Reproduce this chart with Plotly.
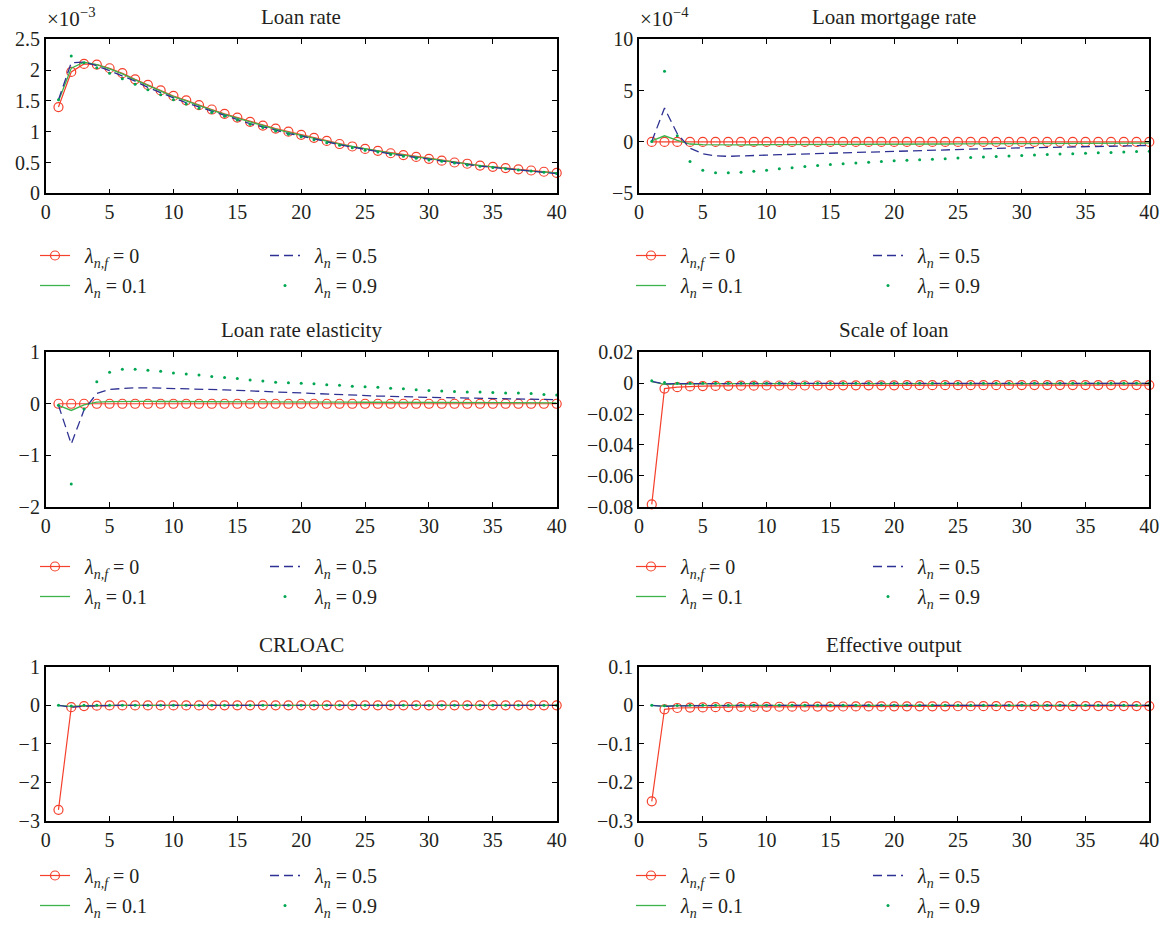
import plotly.graph_objects as go

# ---------------- data ----------------
periods = list(range(1, 41))

series_names = ["\u2002<i>λ</i><sub><i>n,f</i></sub> = 0", "\u2002<i>λ</i><sub><i>n</i></sub> = 0.1",
                "\u2002<i>λ</i><sub><i>n</i></sub> = 0.5", "\u2002<i>λ</i><sub><i>n</i></sub> = 0.9"]

panel_titles = ["Loan rate", "Loan mortgage rate", "Loan rate elasticity",
                "Scale of loan", "CRLOAC", "Effective output"]

# Loan rate (units of 1e-3)
loan_rate_nf0 = [1.40, 1.97, 2.10, 2.09, 2.03, 1.95, 1.85, 1.76, 1.67, 1.58,
                 1.51, 1.43, 1.36, 1.29, 1.23, 1.16, 1.10, 1.05, 1.00, 0.95,
                 0.90, 0.85, 0.80, 0.76, 0.72, 0.69, 0.65, 0.62, 0.59, 0.56,
                 0.53, 0.50, 0.48, 0.45, 0.43, 0.41, 0.39, 0.37, 0.35, 0.33]
loan_rate_n01 = [1.50, 2.03, 2.13, 2.09, 2.02, 1.94, 1.84, 1.75, 1.66, 1.57,
                 1.50, 1.42, 1.35, 1.28, 1.22, 1.15, 1.09, 1.04, 0.99, 0.94,
                 0.89, 0.84, 0.80, 0.76, 0.72, 0.68, 0.65, 0.62, 0.59, 0.56,
                 0.53, 0.50, 0.47, 0.45, 0.43, 0.40, 0.38, 0.36, 0.35, 0.33]
loan_rate_n05 = [1.52, 2.12, 2.13, 2.07, 1.99, 1.91, 1.82, 1.72, 1.63, 1.55,
                 1.47, 1.40, 1.33, 1.26, 1.20, 1.13, 1.08, 1.02, 0.97, 0.93,
                 0.88, 0.83, 0.79, 0.75, 0.71, 0.67, 0.64, 0.61, 0.58, 0.55,
                 0.52, 0.49, 0.47, 0.44, 0.42, 0.40, 0.38, 0.36, 0.34, 0.32]
loan_rate_n09 = [1.52, 2.23, 2.12, 2.04, 1.95, 1.86, 1.77, 1.68, 1.60, 1.52,
                 1.45, 1.38, 1.31, 1.25, 1.19, 1.12, 1.07, 1.01, 0.96, 0.92,
                 0.87, 0.82, 0.78, 0.74, 0.70, 0.67, 0.63, 0.60, 0.57, 0.54,
                 0.52, 0.49, 0.46, 0.44, 0.42, 0.40, 0.38, 0.36, 0.34, 0.32]

# Loan mortgage rate (units of 1e-4)
mortgage_nf0 = [0.0, 0.0, 0.0, 0.0, 0.0, 0.0, 0.0, 0.0, 0.0, 0.0,
                0.0, 0.0, 0.0, 0.0, 0.0, 0.0, 0.0, 0.0, 0.0, 0.0,
                0.0, 0.0, 0.0, 0.0, 0.0, 0.0, 0.0, 0.0, 0.0, 0.0,
                0.0, 0.0, 0.0, 0.0, 0.0, 0.0, 0.0, 0.0, 0.0, 0.0]
mortgage_n01 = [0.10, 0.60, 0.15, -0.20, -0.25, -0.28, -0.28, -0.28, -0.27, -0.27,
                -0.26, -0.26, -0.25, -0.25, -0.24, -0.24, -0.23, -0.23, -0.22, -0.22,
                -0.21, -0.21, -0.20, -0.20, -0.19, -0.19, -0.18, -0.18, -0.17, -0.17,
                -0.16, -0.16, -0.15, -0.15, -0.14, -0.14, -0.13, -0.13, -0.12, -0.12]
mortgage_n05 = [0.05, 3.30, 0.80, -0.60, -1.15, -1.35, -1.40, -1.38, -1.33, -1.28,
                -1.24, -1.20, -1.16, -1.12, -1.08, -1.04, -1.00, -0.96, -0.92, -0.88,
                -0.84, -0.81, -0.78, -0.75, -0.72, -0.69, -0.66, -0.63, -0.60, -0.58,
                -0.55, -0.52, -0.50, -0.47, -0.45, -0.42, -0.40, -0.38, -0.36, -0.34]
mortgage_n09 = [0.05, 6.90, 0.60, -1.90, -2.75, -3.00, -3.00, -2.95, -2.85, -2.75,
                -2.62, -2.50, -2.38, -2.30, -2.20, -2.12, -2.05, -1.97, -1.90, -1.84,
                -1.79, -1.74, -1.69, -1.63, -1.57, -1.51, -1.46, -1.41, -1.36, -1.32,
                -1.27, -1.23, -1.18, -1.14, -1.10, -1.06, -1.02, -0.98, -0.94, -0.90]

# Loan rate elasticity
elastic_nf0 = [0.0, 0.0, 0.0, 0.0, 0.0, 0.0, 0.0, 0.0, 0.0, 0.0,
               0.0, 0.0, 0.0, 0.0, 0.0, 0.0, 0.0, 0.0, 0.0, 0.0,
               0.0, 0.0, 0.0, 0.0, 0.0, 0.0, 0.0, 0.0, 0.0, 0.0,
               0.0, 0.0, 0.0, 0.0, 0.0, 0.0, 0.0, 0.0, 0.0, 0.0]
elastic_n01 = [-0.03, -0.13, -0.02, 0.03, 0.040, 0.045, 0.045, 0.045, 0.044, 0.044,
               0.043, 0.042, 0.041, 0.040, 0.039, 0.038, 0.037, 0.036, 0.035, 0.034,
               0.033, 0.032, 0.031, 0.030, 0.029, 0.028, 0.027, 0.026, 0.025, 0.025,
               0.024, 0.023, 0.022, 0.022, 0.021, 0.020, 0.020, 0.019, 0.019, 0.018]
elastic_n05 = [-0.03, -0.78, -0.12, 0.20, 0.28, 0.30, 0.31, 0.31, 0.305, 0.30,
               0.29, 0.285, 0.28, 0.27, 0.26, 0.25, 0.24, 0.23, 0.215, 0.20,
               0.19, 0.18, 0.175, 0.165, 0.16, 0.15, 0.145, 0.135, 0.13, 0.125,
               0.12, 0.115, 0.11, 0.105, 0.10, 0.095, 0.09, 0.088, 0.085, 0.08]
elastic_n09 = [-0.03, -1.56, -0.10, 0.43, 0.61, 0.67, 0.67, 0.65, 0.63, 0.60,
               0.58, 0.56, 0.53, 0.51, 0.49, 0.46, 0.44, 0.42, 0.41, 0.40,
               0.39, 0.37, 0.36, 0.34, 0.33, 0.32, 0.30, 0.29, 0.27, 0.26,
               0.25, 0.24, 0.23, 0.23, 0.22, 0.21, 0.21, 0.20, 0.18, 0.17]

# Scale of loan
scale_nf0 = [-0.0785, -0.0035, -0.0026, -0.0021, -0.0019, -0.0018, -0.0017, -0.0016, -0.0016, -0.0015,
             -0.0015, -0.0015, -0.0015, -0.0015, -0.0014, -0.0014, -0.0014, -0.0014, -0.0014, -0.0014,
             -0.0013, -0.0013, -0.0013, -0.0013, -0.0013, -0.0013, -0.0013, -0.0013, -0.0013, -0.0012,
             -0.0012, -0.0012, -0.0012, -0.0012, -0.0012, -0.0012, -0.0012, -0.0012, -0.0012, -0.0012]
scale_n01 = [0.0010, -0.0008, -0.0006, -0.0004, -0.0003, -0.0003, -0.0003, -0.0003, -0.0003, -0.0003,
             -0.0003, -0.0003, -0.0003, -0.0003, -0.0003, -0.0003, -0.0003, -0.0003, -0.0003, -0.0003,
             -0.0002, -0.0002, -0.0002, -0.0002, -0.0002, -0.0002, -0.0002, -0.0002, -0.0002, -0.0002,
             -0.0002, -0.0002, -0.0002, -0.0002, -0.0002, -0.0002, -0.0002, -0.0002, -0.0002, -0.0002]
scale_n05 = [0.0012, -0.0005, -0.0003, -0.0002, -0.0002, -0.0002, -0.0002, -0.0002, -0.0002, -0.0002,
             -0.0002, -0.0002, -0.0002, -0.0002, -0.0002, -0.0001, -0.0001, -0.0001, -0.0001, -0.0001,
             -0.0001, -0.0001, -0.0001, -0.0001, -0.0001, -0.0001, -0.0001, -0.0001, -0.0001, -0.0001,
             -0.0001, -0.0001, -0.0001, -0.0001, -0.0001, -0.0001, -0.0001, -0.0001, -0.0001, -0.0001]
scale_n09 = [0.0015, 0.0005, -0.0001, 0.0, 0.0, 0.0, 0.0, 0.0, 0.0, 0.0,
             0.0, 0.0, 0.0, 0.0, 0.0, 0.0, 0.0, 0.0, 0.0, 0.0,
             0.0, 0.0, 0.0, 0.0, 0.0, 0.0, 0.0, 0.0, 0.0, 0.0,
             0.0, 0.0, 0.0, 0.0, 0.0, 0.0, 0.0, 0.0, 0.0, 0.0]

# CRLOAC
crloac_nf0 = [-2.71, -0.05, -0.02, -0.01, -0.005, -0.004, -0.004, -0.003, -0.003, -0.003,
              -0.003, -0.003, -0.002, -0.002, -0.002, -0.002, -0.002, -0.002, -0.002, -0.002,
              -0.002, -0.002, -0.002, -0.002, -0.002, -0.001, -0.001, -0.001, -0.001, -0.001,
              -0.001, -0.001, -0.001, -0.001, -0.001, -0.001, -0.001, -0.001, -0.001, -0.001]
crloac_n01 = [0.0, -0.03, -0.01, 0.0, 0.0, 0.0, 0.0, 0.0, 0.0, 0.0,
              0.0, 0.0, 0.0, 0.0, 0.0, 0.0, 0.0, 0.0, 0.0, 0.0,
              0.0, 0.0, 0.0, 0.0, 0.0, 0.0, 0.0, 0.0, 0.0, 0.0,
              0.0, 0.0, 0.0, 0.0, 0.0, 0.0, 0.0, 0.0, 0.0, 0.0]
crloac_n05 = [0.0, -0.05, -0.02, -0.01, 0.0, 0.0, 0.0, 0.0, 0.0, 0.0,
              0.0, 0.0, 0.0, 0.0, 0.0, 0.0, 0.0, 0.0, 0.0, 0.0,
              0.0, 0.0, 0.0, 0.0, 0.0, 0.0, 0.0, 0.0, 0.0, 0.0,
              0.0, 0.0, 0.0, 0.0, 0.0, 0.0, 0.0, 0.0, 0.0, 0.0]
crloac_n09 = [0.0, -0.02, 0.0, 0.0, 0.0, 0.0, 0.0, 0.0, 0.0, 0.0,
              0.0, 0.0, 0.0, 0.0, 0.0, 0.0, 0.0, 0.0, 0.0, 0.0,
              0.0, 0.0, 0.0, 0.0, 0.0, 0.0, 0.0, 0.0, 0.0, 0.0,
              0.0, 0.0, 0.0, 0.0, 0.0, 0.0, 0.0, 0.0, 0.0, 0.0]

# Effective output
output_nf0 = [-0.249, -0.0104, -0.0070, -0.0060, -0.0055, -0.0050, -0.0047, -0.0044, -0.0042, -0.0040,
              -0.0038, -0.0036, -0.0035, -0.0034, -0.0033, -0.0032, -0.0031, -0.0030, -0.0029, -0.0028,
              -0.0028, -0.0027, -0.0026, -0.0026, -0.0025, -0.0025, -0.0024, -0.0024, -0.0023, -0.0023,
              -0.0022, -0.0022, -0.0022, -0.0021, -0.0021, -0.0021, -0.0020, -0.0020, -0.0020, -0.0020]
output_n01 = [0.0, -0.0020, -0.0010, -0.0005, -0.0005, -0.0004, -0.0004, -0.0004, -0.0003, -0.0003,
              -0.0003, -0.0003, -0.0003, -0.0002, -0.0002, -0.0002, -0.0002, -0.0002, -0.0002, -0.0002,
              -0.0001, -0.0001, -0.0001, -0.0001, -0.0001, -0.0001, -0.0001, -0.0001, -0.0001, -0.0001,
              0.0, 0.0, 0.0, 0.0, 0.0, 0.0, 0.0, 0.0, 0.0, 0.0]
output_n05 = [0.0, -0.0030, -0.0015, -0.0010, -0.0008, -0.0007, -0.0006, -0.0005, -0.0005, -0.0004,
              -0.0004, -0.0004, -0.0003, -0.0003, -0.0003, -0.0003, -0.0002, -0.0002, -0.0002, -0.0002,
              -0.0002, -0.0002, -0.0001, -0.0001, -0.0001, -0.0001, -0.0001, -0.0001, -0.0001, -0.0001,
              -0.0001, -0.0001, 0.0, 0.0, 0.0, 0.0, 0.0, 0.0, 0.0, 0.0]
output_n09 = [0.0, -0.0010, -0.0005, 0.0, 0.0, 0.0, 0.0, 0.0, 0.0, 0.0,
              0.0, 0.0, 0.0, 0.0, 0.0, 0.0, 0.0, 0.0, 0.0, 0.0,
              0.0, 0.0, 0.0, 0.0, 0.0, 0.0, 0.0, 0.0, 0.0, 0.0,
              0.0, 0.0, 0.0, 0.0, 0.0, 0.0, 0.0, 0.0, 0.0, 0.0]

panel_series = [
    [loan_rate_nf0, loan_rate_n01, loan_rate_n05, loan_rate_n09],
    [mortgage_nf0, mortgage_n01, mortgage_n05, mortgage_n09],
    [elastic_nf0, elastic_n01, elastic_n05, elastic_n09],
    [scale_nf0, scale_n01, scale_n05, scale_n09],
    [crloac_nf0, crloac_n01, crloac_n05, crloac_n09],
    [output_nf0, output_n01, output_n05, output_n09],
]

y_ranges = [[0, 2.5], [-5, 10], [-2, 1], [-0.08, 0.02], [-3, 1], [-0.3, 0.1]]
y_dticks = [0.5, 5, 1, 0.02, 1, 0.1]
exponents = ["×10<sup>−3</sup>", "×10<sup>−4</sup>", None, None, None, None]

# ---------------- styling / layout ----------------
W, H = 1162, 926
MB = 100                # bottom margin; legends must stay inside the figure so they never push it
PH = H - MB
FONT = "Liberation Serif"
TXT = "#231f20"
RED = "#f5402c"
GREEN = "#3cb44b"
BLUE = "#2e3192"
DOTG = "#00a651"
TICK_SIZE = 20
TITLE_SIZE = 21
LEG_SIZE = 20

col_left = [(45.7, 556.7), (639.0, 1149.3)]
row_tb = [(39.3, 193.3), (352.3, 506.7), (666.7, 821.0)]
legend_row_top = [236, 547, 856]
legend_x = [(35, 265), (631, 868)]


def fx(p):
    return p / W


def fy(p):
    return 1 - p / PH


fig = go.Figure()
layout = dict(
    width=W, height=H, template="none",
    margin=dict(l=0, r=0, t=0, b=MB, pad=0),
    paper_bgcolor="white", plot_bgcolor="white",
    font=dict(family=FONT, size=TICK_SIZE, color=TXT),
    annotations=[],
)

styles = [
    dict(mode="lines+markers", line=dict(color=RED, width=1.2),
         marker=dict(symbol="circle-open", size=9, color=RED, line=dict(width=1.2, color=RED))),
    dict(mode="lines", line=dict(color=GREEN, width=1.3)),
    dict(mode="lines", line=dict(color=BLUE, width=1.3, dash="9px,5px")),
    dict(mode="markers", marker=dict(symbol="circle", size=3, color=DOTG)),
]

for p in range(6):
    r, c = divmod(p, 2)
    xl, xr = col_left[c]
    yt, yb = row_tb[r]
    ax = "" if p == 0 else str(p + 1)
    leg_a = 2 * p + 1
    leg_b = 2 * p + 2
    leg_names = ["legend" if leg_a == 1 else f"legend{leg_a}", f"legend{leg_b}"]

    for s in range(4):
        tr = go.Scatter(x=periods, y=panel_series[p][s], name=series_names[s],
                        xaxis="x" + ax, yaxis="y" + ax,
                        legend=leg_names[0] if s < 2 else leg_names[1],
                        legendgroup=f"p{p}s{s}", showlegend=True,
                        cliponaxis=False, hoverinfo="skip", **styles[s])
        fig.add_trace(tr)

    axis_common = dict(showgrid=False, zeroline=False, showline=True, linecolor="black",
                       linewidth=1.6, mirror="ticks", ticks="inside", ticklen=5,
                       tickwidth=1, tickcolor="black",
                       tickfont=dict(family=FONT, size=TICK_SIZE, color=TXT))
    layout["xaxis" + ax] = dict(domain=[fx(xl), fx(xr)], range=[0, 40], tick0=0, dtick=5,
                                anchor="y" + ax, **axis_common)
    layout["yaxis" + ax] = dict(domain=[max(0.0, fy(yb)), fy(yt)], range=y_ranges[p], tick0=0,
                                dtick=y_dticks[p], anchor="x" + ax, **axis_common)

    for k, lname in enumerate(leg_names):
        layout[lname] = dict(x=fx(legend_x[c][k]), y=fy(legend_row_top[r]),
                             xanchor="left", yanchor="top", orientation="v",
                             bgcolor="rgba(0,0,0,0)", borderwidth=0,
                             tracegroupgap=1, itemclick=False, itemdoubleclick=False,
                             font=dict(family=FONT, size=LEG_SIZE, color=TXT))

    layout["annotations"].append(dict(
        text=panel_titles[p], x=fx((xl + xr) / 2), y=fy(yt - 22), xref="paper", yref="paper",
        xanchor="center", yanchor="middle", showarrow=False,
        font=dict(family=FONT, size=TITLE_SIZE, color=TXT)))
    if exponents[p]:
        layout["annotations"].append(dict(
            text=exponents[p], x=fx(xl - 1), y=fy(yt - 22), xref="paper", yref="paper",
            xanchor="left", yanchor="middle", showarrow=False,
            font=dict(family=FONT, size=TITLE_SIZE, color=TXT)))

fig.update_layout(**layout)
fig.write_html("out.html", config={"displayModeBar": False},
               post_script="document.body.style.margin='0';")
